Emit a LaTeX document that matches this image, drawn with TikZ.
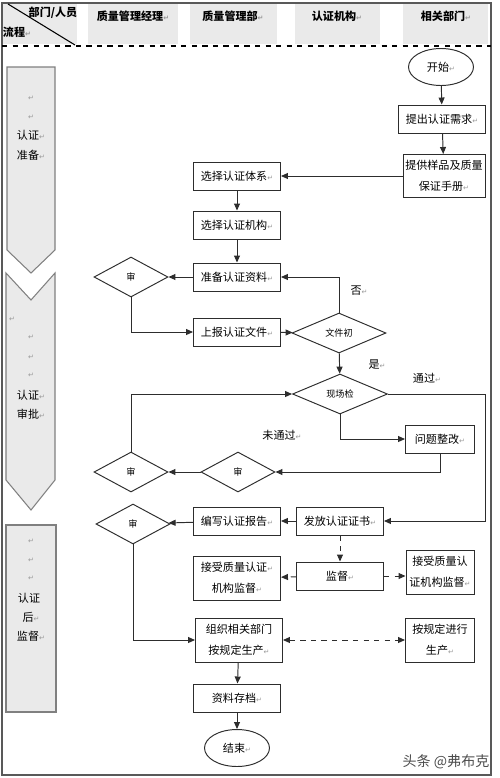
\documentclass[tikz,border=0pt]{standalone}
\usepackage{fontspec}
\setmainfont{Noto Sans CJK SC}
\newfontfamily\symfont{DejaVu Sans}
\usetikzlibrary{shapes.geometric,arrows.meta}
\definecolor{cellgray}{RGB}{234,234,234}
\definecolor{ink}{RGB}{45,45,45}
\newcommand{\rt}{{\symfont\color{gray!80}\fontsize{4}{4}\selectfont ↵}}

\begin{document}
\begin{tikzpicture}[x=0.02cm,y=-0.02cm]
  \tikzstyle{box}=[draw=ink, line width=0.55pt, minimum width=1.74cm, minimum height=0.56cm, inner sep=1pt, align=center, font=\fontsize{6.3}{12}\selectfont]
  \tikzstyle{check}=[draw=ink, diamond, line width=0.55pt, minimum width=1.48cm, minimum height=0.8cm, inner sep=0pt, font=\fontsize{5.2}{6}\selectfont]
  \tikzstyle{term}=[draw=ink, ellipse, line width=0.55pt, minimum width=1.3cm, minimum height=0.74cm, inner sep=0pt, font=\fontsize{6.3}{8}\selectfont]
  \tikzstyle{flow}=[draw=ink, line width=0.55pt, -{Triangle[length=1.4mm,width=1.2mm]}]
  \tikzstyle{maybe}=[flow, dashed]
  \tikzstyle{phase}=[fill=cellgray, draw=gray, line width=0.6pt]
  \tikzstyle{head}=[font=\fontsize{6.3}{8}\selectfont\bfseries]
  \tikzstyle{tag}=[font=\fontsize{6.3}{8}\selectfont]

  \useasboundingbox (0,0) rectangle (500,778);

  % frame and header
  \fill[cellgray] (3,4) rectangle (77,44);
  \fill[cellgray] (88,4) rectangle (178,44);
  \fill[cellgray] (190,4) rectangle (277,44);
  \fill[cellgray] (295,4) rectangle (380,44);
  \fill[cellgray] (403,4) rectangle (488,44);
  \draw[line width=0.8pt, gray!70!black] (2,3) rectangle (491,775);
  \draw[dashed, line width=0.6pt] (2,46) -- (491,46);
  \draw[line width=0.6pt] (8,4) -- (75,45);

  \node[head] (who) at (53,13) {部门/人员};
  \node[head] (how) at (17,32) {流程\rt};
  \node[head] (mgr) at (133,16) {质量管理经理\rt};
  \node[head] (dept) at (233,16) {质量管理部\rt};
  \node[head] (body) at (337,16) {认证机构\rt};
  \node[head] (rel) at (446,16) {相关部门\rt};

  % phases
  \draw[phase] (7,67) -- (55,67) -- (55,250) -- (31,273) -- (7,250) -- cycle;
  \draw[phase] (6,273) -- (31,300) -- (55,273) -- (55,480) -- (31,510) -- (6,480) -- cycle;
  \draw[phase] (6,525) rectangle (56,712);

  \node[tag] (p1a) at (31,98) {\rt};
  \node[tag] (p1b) at (31,117) {\rt};
  \node[tag] (p1c) at (31,135) {认证\rt};
  \node[tag] (p1d) at (31,155) {准备\rt};

  \node[tag] (p2a) at (12,319) {\rt};
  \node[tag] (p2b) at (31,337) {\rt};
  \node[tag] (p2c) at (31,357) {\rt};
  \node[tag] (p2d) at (31,375) {\rt};
  \node[tag] (p2e) at (31,395) {认证\rt};
  \node[tag] (p2f) at (31,414) {审批\rt};

  \node[tag] (p3a) at (31,541) {\rt};
  \node[tag] (p3b) at (31,560) {\rt};
  \node[tag] (p3c) at (31,578) {\rt};
  \node[tag] (p3d) at (29,598) {认证};
  \node[tag] (p3e) at (31,617) {后\rt};
  \node[tag] (p3f) at (31,636) {监督\rt};

  % flow nodes
  \node[term] (start) at (441,67) {开始\rt};
  \node[box] (need) at (442,119) {提出认证需求\rt};
  \node[box, minimum width=1.64cm, minimum height=0.86cm] (sample) at (444,176) {提供样品及质量\\保证手册\rt};
  \node[box] (sys) at (237,176) {选择认证体系\rt};
  \node[box] (agency) at (237,225) {选择认证机构\rt};
  \node[box] (prep) at (237,277) {准备认证资料\rt};
  \node[check] (aud1) at (131,277) {审};
  \node[box] (submit) at (237,332) {上报认证文件\rt};
  \node[check, minimum width=1.88cm] (first) at (339,333) {文件初};
  \node[check, minimum width=1.9cm] (site) at (340,394) {现场检};
  \node[box, minimum width=1.38cm] (fix) at (440,439) {问题整改\rt};
  \node[check] (aud2) at (238,472) {审};
  \node[check] (aud3) at (131,472) {审};
  \node[box] (cert) at (340,521) {发放认证证书\rt};
  \node[box] (report) at (237,521) {编写认证报告\rt};
  \node[check] (aud4) at (133,524) {审};
  \node[box] (watch) at (340,576) {监督\rt};
  \node[box, minimum height=0.88cm] (accL) at (237,578) {接受质量认证\rt\\机构监督\rt};
  \node[box, minimum width=1.36cm, minimum height=0.88cm] (accR) at (440,572) {接受质量认\\证机构监督\rt};
  \node[box, minimum height=0.88cm] (prod) at (239,640) {组织相关部门\\按规定生产\rt};
  \node[box, minimum width=1.38cm, minimum height=0.88cm] (prodR) at (440,640) {按规定进行\\生产\rt};
  \node[box] (file) at (237,698) {资料存档\rt};
  \node[term] (stop) at (237,748) {结束\rt};

  % branch labels
  \node[tag] (no) at (359,291) {否\rt};
  \node[tag] (yes) at (377,365) {是\rt};
  \node[tag] (pass) at (427,378) {通过\rt};
  \node[tag] (fail) at (282,435) {未通过\rt};
  \node[font=\fontsize{8}{10}\selectfont, text=gray!60!black] (mark) at (446,762) {头条 @弗布克};

  \coordinate (passR) at (485,521);

  % connectors
  \draw[flow] (start) -- (need);
  \draw[flow] (need) -- (sample);
  \draw[flow] (sample) -- (sys);
  \draw[flow] (sys) -- (agency);
  \draw[flow] (agency) -- (prep);
  \draw[flow] (prep) -- (aud1);
  \draw[flow] (aud1.south) |- (submit.west);
  \draw[flow] (submit) -- (first);
  \draw[flow] (first.north) |- (prep.east);
  \draw[flow] (first) -- (site);
  \draw[flow] (site.east) -| (passR) -- (cert.east);
  \draw[flow] (site.south) |- (fix.west);
  \draw[flow] (fix.south) |- (aud2.east);
  \draw[flow] (aud2) -- (aud3);
  \draw[flow] (aud3.north) |- (site.west);
  \draw[flow] (cert) -- (report);
  \draw[flow] (report) -- (aud4);
  \draw[maybe] (cert) -- (watch);
  \draw[maybe] (watch) -- (accL);
  \draw[maybe] (watch.east) -- (accR.west |- watch.east);
  \draw[flow] (aud4.south) |- (prod.west);
  \draw[maybe, {Triangle[length=1.4mm,width=1.2mm]}-{Triangle[length=1.4mm,width=1.2mm]}] (prod) -- (prodR);
  \draw[flow] (prod) -- (file);
  \draw[flow] (file) -- (stop);
\end{tikzpicture}
\end{document}
